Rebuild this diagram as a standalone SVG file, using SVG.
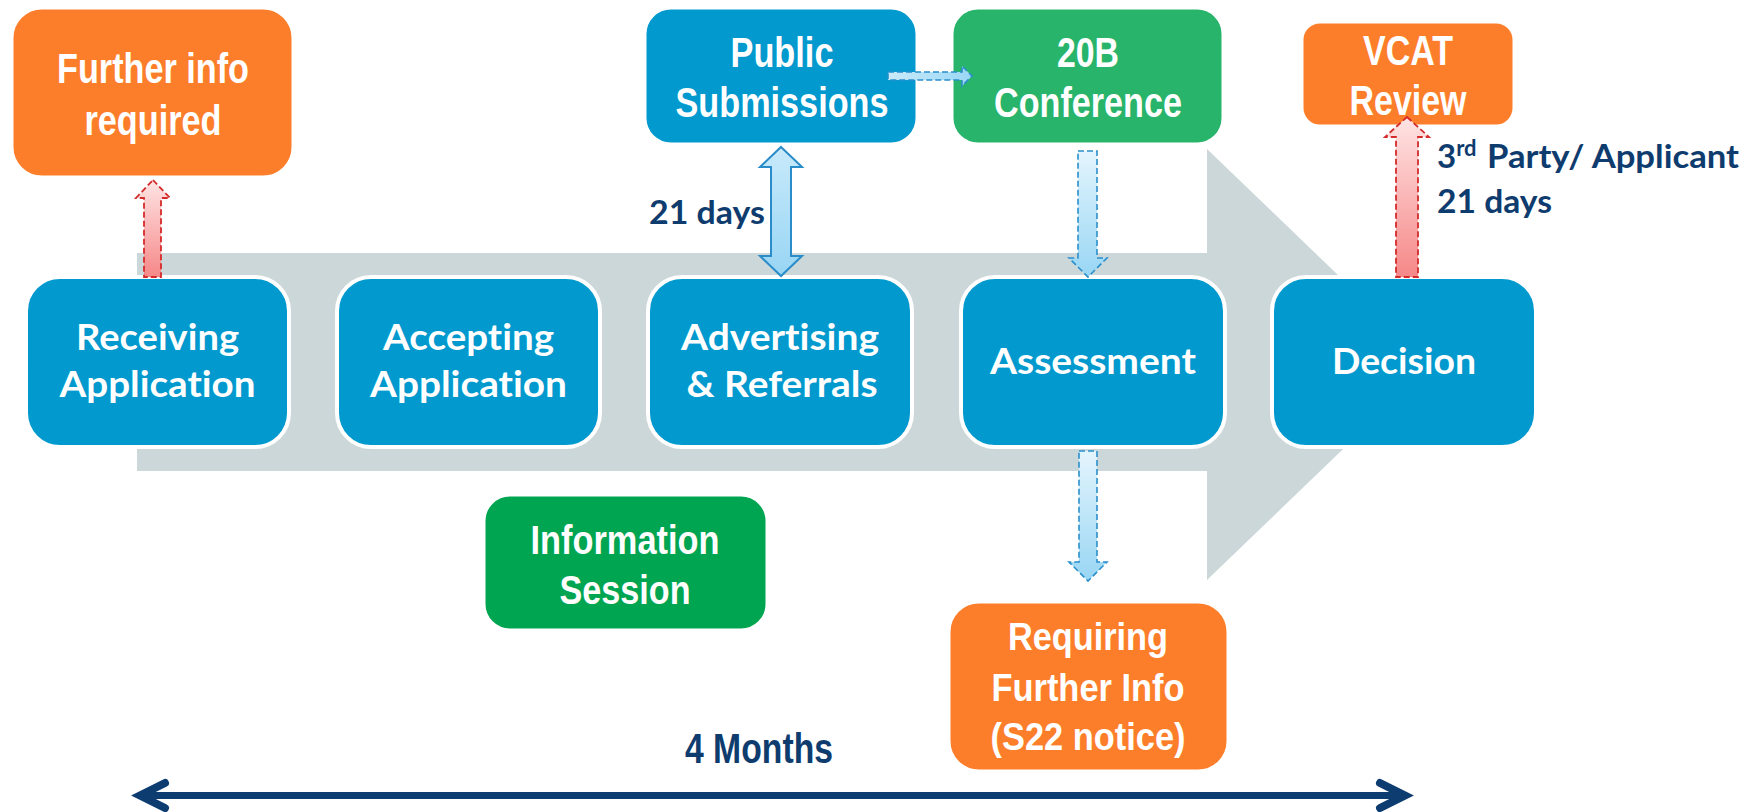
<svg xmlns="http://www.w3.org/2000/svg" width="1762" height="812" viewBox="0 0 1762 812">
<style>
.blue{fill:#0299CE;stroke:#fff;stroke-width:4}
.orange{fill:#FD7E2A;stroke:#fff;stroke-width:3}
.green1{fill:#28B46B;stroke:#fff;stroke-width:3}
.green2{fill:#00A551;stroke:#fff;stroke-width:3}
.narrow{font-family:"Liberation Sans",Arial,sans-serif;font-weight:700;fill:#fff;text-anchor:middle}
.cal{font-family:Lato,"Open Sans",sans-serif;font-weight:700;fill:#fff;text-anchor:middle;font-size:36px;font-variant-ligatures:none}
.lbl{font-family:Lato,"Open Sans",sans-serif;font-weight:700;fill:#0F3C6E;font-size:33px;font-variant-ligatures:none}
.bdash{stroke:#2A8FCB;stroke-width:1.6;stroke-dasharray:6 3}
.rdash{stroke:#D42B2B;stroke-width:1.8;stroke-dasharray:6 3;fill:url(#gRed)}
</style>
<defs>
<linearGradient id="gBlueV" x1="0" y1="0" x2="0" y2="1"><stop offset="0" stop-color="#E4F5FD"/><stop offset="1" stop-color="#98D6F4"/></linearGradient>
<linearGradient id="gBlueH" x1="0" y1="0" x2="1" y2="0"><stop offset="0" stop-color="#C9EAFA"/><stop offset="1" stop-color="#9AD7F5"/></linearGradient>
<linearGradient id="gDbl" x1="0" y1="0" x2="0" y2="1"><stop offset="0" stop-color="#C8EAFB"/><stop offset="1" stop-color="#98D5F4"/></linearGradient>
<linearGradient id="gRed" x1="0" y1="0" x2="0" y2="1"><stop offset="0" stop-color="#FFE4E4"/><stop offset="1" stop-color="#F68888"/></linearGradient>
</defs>
<rect width="1762" height="812" fill="#fff"/>
<polygon id="flow-arrow" points="137,253 1207,253 1207,149 1431,364.5 1207,580 1207,471 137,471" fill="#CCD7D9"/>

<g id="further-info-required">
<rect class="orange" x="12" y="8" width="281" height="169" rx="30"/>
<text class="narrow" font-size="42" x="153" y="83" textLength="192" lengthAdjust="spacingAndGlyphs">Further info</text>
<text class="narrow" font-size="42" x="153" y="135" textLength="137" lengthAdjust="spacingAndGlyphs">required</text>
</g>
<g id="public-submissions">
<rect class="blue" style="stroke-width:3" x="645" y="8" width="272" height="136" rx="26"/>
<text class="narrow" font-size="42" x="782" y="67" textLength="103" lengthAdjust="spacingAndGlyphs">Public</text>
<text class="narrow" font-size="42" x="782" y="117" textLength="213" lengthAdjust="spacingAndGlyphs">Submissions</text>
</g>
<g id="conference-20b">
<rect class="green1" x="952" y="8" width="271" height="136" rx="26"/>
<text class="narrow" font-size="42" x="1088" y="67" textLength="62" lengthAdjust="spacingAndGlyphs">20B</text>
<text class="narrow" font-size="42" x="1088" y="117" textLength="188" lengthAdjust="spacingAndGlyphs">Conference</text>
</g>
<g id="vcat-review">
<rect class="orange" x="1302" y="22" width="212" height="104" rx="18"/>
<text class="narrow" font-size="42" x="1408" y="65" textLength="90" lengthAdjust="spacingAndGlyphs">VCAT</text>
<text class="narrow" font-size="42" x="1408" y="115" textLength="117" lengthAdjust="spacingAndGlyphs">Review</text>
</g>

<g id="receiving-application">
<rect class="blue" x="26" y="277" width="263" height="170" rx="34"/>
<text class="cal" x="157.5" y="350" textLength="163" lengthAdjust="spacingAndGlyphs">Receiving</text>
<text class="cal" x="157.5" y="397" textLength="196" lengthAdjust="spacingAndGlyphs">Application</text>
</g>
<g id="accepting-application">
<rect class="blue" x="337" y="277" width="263" height="170" rx="34"/>
<text class="cal" x="468.5" y="350" textLength="171" lengthAdjust="spacingAndGlyphs">Accepting</text>
<text class="cal" x="468.5" y="397" textLength="197" lengthAdjust="spacingAndGlyphs">Application</text>
</g>
<g id="advertising-referrals">
<rect class="blue" x="648" y="277" width="264" height="170" rx="34"/>
<text class="cal" x="780" y="350" textLength="198" lengthAdjust="spacingAndGlyphs">Advertising</text>
<text class="cal" x="782" y="397" textLength="191" lengthAdjust="spacingAndGlyphs">&amp; Referrals</text>
</g>
<g id="assessment">
<rect class="blue" x="961" y="277" width="264" height="170" rx="34"/>
<text class="cal" x="1093" y="374" textLength="206" lengthAdjust="spacingAndGlyphs">Assessment</text>
</g>
<g id="decision">
<rect class="blue" x="1272" y="277" width="264" height="170" rx="34"/>
<text class="cal" x="1404" y="374" textLength="144" lengthAdjust="spacingAndGlyphs">Decision</text>
</g>

<g id="information-session">
<rect class="green2" x="484" y="495" width="283" height="135" rx="26"/>
<text class="narrow" font-size="41" x="625" y="554" textLength="189" lengthAdjust="spacingAndGlyphs">Information</text>
<text class="narrow" font-size="41" x="625" y="604" textLength="131" lengthAdjust="spacingAndGlyphs">Session</text>
</g>
<g id="requiring-further-info">
<rect class="orange" x="949" y="602" width="279" height="169" rx="30"/>
<text class="narrow" font-size="38" x="1088" y="650" textLength="160" lengthAdjust="spacingAndGlyphs">Requiring</text>
<text class="narrow" font-size="38" x="1088" y="701" textLength="193" lengthAdjust="spacingAndGlyphs">Further Info</text>
<text class="narrow" font-size="38" x="1088" y="750" textLength="195" lengthAdjust="spacingAndGlyphs">(S22 notice)</text>
</g>

<g id="connectors">
<path class="rdash" d="M153,180 L170,198 L161,198 L161,277 L144,277 L144,198 L136,198 Z"/>
<path class="rdash" d="M1407,117 L1429,137 L1418,137 L1418,277 L1396,277 L1396,137 L1385,137 Z"/>
<path d="M781,147 L802,167 L791,167 L791,256 L802,256 L781,276 L760,256 L771,256 L771,167 L760,167 Z" fill="url(#gDbl)" stroke="#2A8CC8" stroke-width="2"/>
<path class="bdash" fill="url(#gBlueV)" d="M1078,151 L1097,151 L1097,258 L1107,258 L1088,277 L1069,258 L1078,258 Z"/>
<path class="bdash" fill="url(#gBlueV)" d="M1079,451 L1097,451 L1097,562 L1107,562 L1088,581 L1069,562 L1079,562 Z"/>
<path class="bdash" fill="url(#gBlueH)" d="M888,72 L962,72 L962,66 L972,76 L962,86 L962,80 L888,80 Z"/>
<g stroke="#0D3D70" fill="none" stroke-linecap="round">
<line x1="142" y1="795.5" x2="1402" y2="795.5" stroke-width="7"/>
<polyline points="165,783 140,795.5 165,808" stroke-width="8" stroke-linejoin="miter"/>
<polyline points="1380,783 1405,795.5 1380,808" stroke-width="8" stroke-linejoin="miter"/>
</g>
</g>

<text class="lbl" x="1437" y="168">3<tspan font-size="22" dy="-12">rd </tspan><tspan x="1487" y="168" textLength="252" lengthAdjust="spacingAndGlyphs">Party/ Applicant</tspan></text>
<text class="lbl" x="649" y="224" textLength="116" lengthAdjust="spacingAndGlyphs">21 days</text>
<text class="lbl" x="1437" y="213" textLength="115" lengthAdjust="spacingAndGlyphs">21 days</text>
<text font-family="Liberation Sans,Arial,sans-serif" font-weight="700" font-size="42" fill="#0F3C6E" text-anchor="middle" x="759" y="763" textLength="148" lengthAdjust="spacingAndGlyphs">4 Months</text>
</svg>
